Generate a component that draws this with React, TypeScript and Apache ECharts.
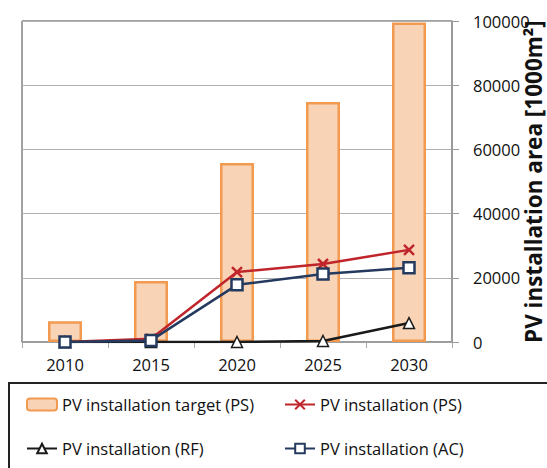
import React, { useEffect, useRef } from "react";
import * as echarts from "echarts";

const years = ["2010", "2015", "2020", "2025", "2030"];
const targetPS = [6500, 19000, 55800, 74800, 99500];
const installPS = [0, 1000, 21800, 24300, 28700];
const installRF = [0, 0, 0, 300, 5900];
const installAC = [0, 500, 17800, 21200, 23100];
const yTicks = { min: 0, max: 100000, interval: 20000 };

const FONT = "Open Sans";
const crossPath = "path://M0,0L10,10M10,0L0,10";

export default function App() {
  const ref = useRef<HTMLDivElement>(null);
  useEffect(() => {
    if (!ref.current) return;
    const chart = echarts.init(ref.current, null, { renderer: "svg" });
    const legendText = { fontFamily: FONT, fontSize: 16.5, color: "#111" };
    const legendBase = { padding: 0, itemWidth: 30, itemHeight: 12, textStyle: legendText };
    chart.setOption({
      animation: false,
      grid: {
        left: 22,
        right: 95,
        top: 21,
        bottom: 126,
        show: true,
        borderColor: "#444",
        borderWidth: 1,
      },
      xAxis: {
        type: "category",
        data: years,
        boundaryGap: true,
        axisLine: { lineStyle: { color: "#999", width: 1.5 } },
        axisTick: { show: true, length: 6, lineStyle: { color: "#aaa" } },
        axisLabel: { fontFamily: FONT, fontSize: 16.5, color: "#111", margin: 14 },
      },
      yAxis: {
        type: "value",
        position: "right",
        min: yTicks.min,
        max: yTicks.max,
        interval: yTicks.interval,
        axisLine: { show: true, lineStyle: { color: "#999", width: 1.5 } },
        axisTick: { show: true, inside: false, length: 7, lineStyle: { color: "#999" } },
        axisLabel: {
          fontFamily: FONT,
          fontSize: 16.5,
          color: "#111",
          margin: 21,
          formatter: (v: number) => String(v),
        },
        splitLine: { show: true, lineStyle: { color: "#b0b0b0", width: 1.2 } },
      },
      legend: [
        { ...legendBase, data: ["PV installation target (PS)"], left: 26, top: 396 },
        { ...legendBase, data: ["PV installation (PS)"], left: 284, top: 396 },
        { ...legendBase, data: ["PV installation (RF)"], left: 26, top: 440 },
        { ...legendBase, data: ["PV installation (AC)"], left: 284, top: 440 },
      ],
      graphic: [
        {
          type: "rect",
          shape: { x: 9, y: 383, width: 560, height: 100 },
          style: { fill: "none", stroke: "#222", lineWidth: 2 },
          silent: true,
        },
        {
          type: "text",
          x: 533,
          y: 343,
          rotation: Math.PI / 2,
          style: {
            text: "PV installation area [1000m²]",
            font: `bold 22.5px ${FONT}`,
            fill: "#111",
            textAlign: "left",
            textVerticalAlign: "middle",
          },
        },
      ],
      series: [
        {
          name: "PV installation target (PS)",
          type: "bar",
          data: targetPS,
          barWidth: 34,
          itemStyle: { color: "#F9D3B5", borderColor: "#F19A50", borderWidth: 2.5 },
          z: 1,
        },
        {
          name: "PV installation (RF)",
          type: "line",
          data: installRF,
          symbol: "triangle",
          symbolSize: 11,
          lineStyle: { color: "#1a1a1a", width: 2.5 },
          itemStyle: { color: "#fff", borderColor: "#1a1a1a", borderWidth: 1.5 },
          z: 3,
        },
        {
          name: "PV installation (PS)",
          type: "line",
          data: installPS,
          symbol: crossPath,
          symbolSize: 10,
          lineStyle: { color: "#C0252B", width: 2.5 },
          itemStyle: { color: "#C0252B", borderColor: "#C0252B", borderWidth: 2.5 },
          z: 4,
        },
        {
          name: "PV installation (AC)",
          type: "line",
          data: installAC,
          symbol: "rect",
          symbolSize: 11,
          lineStyle: { color: "#243A5E", width: 2.5 },
          itemStyle: { color: "#fff", borderColor: "#243A5E", borderWidth: 2.5 },
          z: 5,
        },
      ],
    });
    return () => chart.dispose();
  }, []);
  return (
    <div
      ref={ref}
      style={{ position: "fixed", left: 0, top: 0, width: 547, height: 468, background: "#fff" }}
    />
  );
}
